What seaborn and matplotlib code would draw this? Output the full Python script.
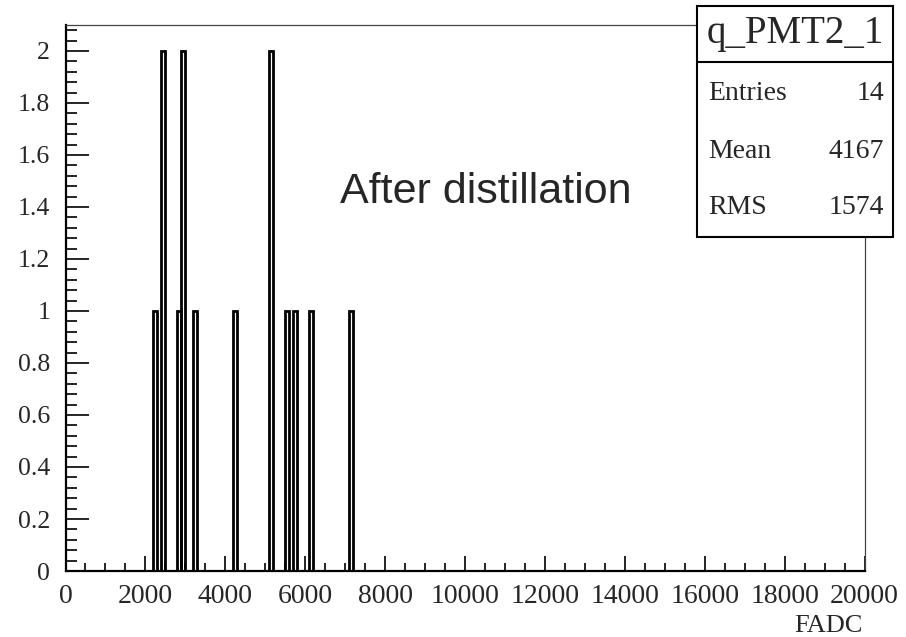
import matplotlib
matplotlib.use("Agg")
import matplotlib.pyplot as plt
import seaborn as sns
import numpy as np
import pandas as pd
from matplotlib.patches import Rectangle
from matplotlib.lines import Line2D
from matplotlib.ticker import MultipleLocator, FixedLocator

# ---- data (FADC entries) ----
fadc_values = [2250, 2450, 2450, 2850, 2950, 2950, 3250, 4250,
               5150, 5150, 5550, 5750, 6150, 7150]
x_ticks = [0, 2000, 4000, 6000, 8000, 10000, 12000, 14000, 16000, 18000, 20000]
x_tick_labels = ["0", "2000", "4000", "6000", "8000", "10000", "12000",
                 "14000", "16000", "18000", "20000"]
y_ticks = [0, 0.2, 0.4, 0.6, 0.8, 1.0, 1.2, 1.4, 1.6, 1.8, 2.0]
y_tick_labels = ["0", "0.2", "0.4", "0.6", "0.8", "1", "1.2", "1.4", "1.6", "1.8", "2"]
hist_name = "q_PMT2_1"
stat_labels = ["Entries", "Mean", "RMS"]
stat_values = ["14", "4167", "1574"]
annotation = "After distillation"
x_label = "FADC"

df = pd.DataFrame({"FADC": fadc_values})

sns.set_style("white")
serif = ["Liberation Serif", "DejaVu Serif"]

fig = plt.figure(figsize=(9.06, 6.37), dpi=100)
ax = fig.add_axes([0.0723, 0.1036, 0.8819, 0.8572])

sns.histplot(data=df, x="FADC", bins=200, binrange=(0, 20000),
             element="bars", fill=False, color="black", linewidth=2.0, ax=ax)

ax.set_xlim(0, 20000)
ax.set_ylim(0, 2.1)
ax.set_ylabel("")
ax.set_xlabel("")

ax.xaxis.set_major_locator(FixedLocator(x_ticks))
ax.set_xticklabels(x_tick_labels, fontfamily=serif, fontsize=20)
ax.xaxis.set_minor_locator(MultipleLocator(500))
ax.yaxis.set_major_locator(FixedLocator(y_ticks))
ax.set_yticklabels(y_tick_labels, fontfamily=serif, fontsize=18.5)
ax.yaxis.set_minor_locator(MultipleLocator(0.04))

ax.tick_params(axis="x", which="major", direction="in", length=11, width=1.2,
               pad=9, bottom=True, top=False, color="black")
ax.tick_params(axis="x", which="minor", direction="in", length=5.5, width=1.2,
               bottom=True, top=False, color="black")
ax.tick_params(axis="y", which="major", direction="in", length=16.5, width=1.2,
               pad=11, left=True, right=False, color="black")
ax.tick_params(axis="y", which="minor", direction="in", length=8, width=1.2,
               left=True, right=False, color="black")

for s in ["left", "bottom"]:
    ax.spines[s].set_linewidth(1.6)
    ax.spines[s].set_color("black")
for s in ["top", "right"]:
    ax.spines[s].set_linewidth(0.9)
    ax.spines[s].set_color("#444444")

# x axis title
fig.text(0.952, 1 - 626 / 637, x_label, ha="right", va="center",
         fontfamily=serif, fontsize=19)

# annotation
ax.text(0.526, 0.694, annotation, transform=ax.transAxes, ha="center", va="center",
        fontfamily=["Liberation Sans", "DejaVu Sans"], fontsize=31)

# stats box
bx0, bx1 = 697 / 906, 893 / 906
by0, by1 = 1 - 237 / 637, 1 - 6 / 637
bsep = 1 - 62 / 637
fig.patches.append(Rectangle((bx0, by0), bx1 - bx0, by1 - by0,
                             transform=fig.transFigure, facecolor="white",
                             edgecolor="black", linewidth=1.5, zorder=10))
fig.lines.append(Line2D([bx0, bx1], [bsep, bsep], transform=fig.transFigure,
                        color="black", linewidth=1.5, zorder=11))
fig.text((bx0 + bx1) / 2, (bsep + by1) / 2, hist_name, ha="center", va="center",
         fontfamily=serif, fontsize=28, zorder=12)
row_y = [1 - 93 / 637, 1 - 152 / 637, 1 - 208 / 637]
for lab, val, yy in zip(stat_labels, stat_values, row_y):
    fig.text(708 / 906, yy, lab, ha="left", va="center",
             fontfamily=serif, fontsize=20, zorder=12)
    fig.text(884 / 906, yy, val, ha="right", va="center",
             fontfamily=serif, fontsize=20, zorder=12)

fig.savefig("out.png", dpi=100)
